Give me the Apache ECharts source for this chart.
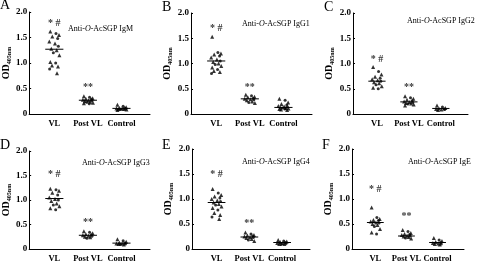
<!DOCTYPE html>
<html>
<head>
<meta charset="utf-8">
<script src="https://cdn.jsdelivr.net/npm/echarts@6/dist/echarts.min.js"></script>
<style>
  html, body { margin: 0; padding: 0; background: #fff; }
  #chart { width: 480px; height: 263px; }
</style>
</head>
<body>
<div id="chart"></div>
<script>
  // groups and where they sit on the x value axis
  const categories = ['VL', 'Post VL', 'Control'];
  const catPos = [0.75, 1.75, 2.75];
  const yTicks = [0, 0.5, 1.0, 1.5, 2.0];
  const panelLetters = ['A', 'B', 'C', 'D', 'E', 'F'];
  const isotypes = ['IgM', 'IgG1', 'IgG2', 'IgG3', 'IgG4', 'IgE'];

  // OD values, one list per group
  const vlIgM = [1.62, 1.58, 1.55, 1.52, 1.48, 1.42, 1.38, 1.33, 1.28, 1.25, 1.2, 1.15, 1.02, 1.0, 0.95, 0.93, 0.88, 0.8];
  const postIgM = [0.35, 0.33, 0.31, 0.3, 0.29, 0.28, 0.27, 0.26, 0.25, 0.24, 0.23, 0.22, 0.21, 0.2];
  const ctrlIgM = [0.18, 0.15, 0.13, 0.12, 0.12, 0.11, 0.11, 0.1, 0.1, 0.1, 0.09, 0.09, 0.08];

  const vlIgG1 = [1.53, 1.22, 1.2, 1.18, 1.15, 1.12, 1.08, 1.05, 1.03, 1.0, 0.98, 0.95, 0.92, 0.88, 0.85, 0.83, 0.8];
  const postIgG1 = [0.38, 0.36, 0.34, 0.33, 0.31, 0.3, 0.29, 0.28, 0.27, 0.25, 0.23, 0.22];
  const ctrlIgG1 = [0.3, 0.27, 0.23, 0.2, 0.18, 0.16, 0.15, 0.14, 0.13, 0.12, 0.12, 0.11, 0.1, 0.1, 0.09, 0.08];

  const vlIgG2 = [0.93, 0.84, 0.78, 0.74, 0.71, 0.69, 0.67, 0.65, 0.63, 0.61, 0.58, 0.55, 0.52, 0.5];
  const postIgG2 = [0.35, 0.32, 0.3, 0.28, 0.26, 0.25, 0.24, 0.23, 0.22, 0.21, 0.2, 0.19, 0.17];
  const ctrlIgG2 = [0.17, 0.14, 0.12, 0.11, 0.1, 0.1, 0.09, 0.09, 0.08];

  const vlIgG3 = [1.23, 1.21, 1.19, 1.15, 1.1, 1.05, 1.02, 1.0, 0.98, 0.93, 0.9, 0.87, 0.83, 0.8];
  const postIgG3 = [0.36, 0.34, 0.32, 0.3, 0.29, 0.28, 0.27, 0.26, 0.25, 0.24, 0.22];
  const ctrlIgG3 = [0.2, 0.17, 0.15, 0.13, 0.12, 0.11, 0.11, 0.1, 0.1, 0.09, 0.09];

  const vlIgG4 = [1.2, 1.12, 1.08, 1.05, 1.02, 1.0, 0.97, 0.95, 0.93, 0.9, 0.88, 0.85, 0.82, 0.78, 0.72, 0.68, 0.64, 0.6];
  const postIgG4 = [0.33, 0.3, 0.28, 0.27, 0.26, 0.25, 0.24, 0.23, 0.22, 0.2, 0.18, 0.16];
  const ctrlIgG4 = [0.18, 0.16, 0.15, 0.14, 0.13, 0.12, 0.12, 0.11, 0.1, 0.1, 0.09];

  const vlIgE = [0.83, 0.63, 0.6, 0.58, 0.57, 0.55, 0.53, 0.52, 0.5, 0.48, 0.45, 0.4, 0.33, 0.3];
  const postIgE = [0.38, 0.35, 0.32, 0.3, 0.29, 0.28, 0.27, 0.26, 0.25, 0.24, 0.22, 0.21];
  const ctrlIgE = [0.22, 0.18, 0.16, 0.14, 0.13, 0.12, 0.11, 0.1, 0.1, 0.09];

  // median bars
  const medIgM = [1.27, 0.27, 0.11];
  const medIgG1 = [1.05, 0.3, 0.13];
  const medIgG2 = [0.65, 0.24, 0.11];
  const medIgG3 = [1.03, 0.28, 0.12];
  const medIgG4 = [0.93, 0.24, 0.13];
  const medIgE = [0.53, 0.26, 0.13];

  // where the "* #" and "**" marks sit
  const vlMarkY = [1.77, 1.69, 1.09, 1.52, 1.5, 1.19];
  const postMarkY = [0.53, 0.52, 0.53, 0.55, 0.52, 0.65];

  const groups = [
    [vlIgM, postIgM, ctrlIgM],
    [vlIgG1, postIgG1, ctrlIgG1],
    [vlIgG2, postIgG2, ctrlIgG2],
    [vlIgG3, postIgG3, ctrlIgG3],
    [vlIgG4, postIgG4, ctrlIgG4],
    [vlIgE, postIgE, ctrlIgE]
  ];
  const medians = [medIgM, medIgG1, medIgG2, medIgG3, medIgG4, medIgE];

  // horizontal scatter of the dots inside a group (hand picked, not data)
  const jitter = [-0.12, 0.05, 0.14, -0.06, 0.1, -0.15, 0.02, 0.12, -0.09, 0.07, -0.03, 0.15, -0.12, 0.04, -0.07, 0.11, -0.14, 0.08];

  // plot boxes, panel letter spot and caption spot for each panel
  const boxes = [
    {left: 23, top: 12, width: 127, height: 102},
    {left: 191, top: 13, width: 121, height: 101},
    {left: 353, top: 13, width: 115, height: 101},
    {left: 23, top: 151, width: 127, height: 100},
    {left: 192, top: 149, width: 118, height: 103},
    {left: 352, top: 149, width: 112, height: 104}
  ];
  const letterAt = [[0, -2], [162, 0], [324, 0], [0, 138], [162, 138], [322, 138]];
  const captionAt = [[68, 25], [242, 20], [407, 17], [82, 159], [242, 158], [408, 158]];

  const serif = 'Liberation Serif';
  const grid = [], xAxis = [], yAxis = [], series = [], title = [];

  boxes.forEach(function (b, p) {
    grid.push(b);
    xAxis.push({
      type: 'value', gridIndex: p, min: 0, max: 3.6, interval: 0.25,
      axisLine: {lineStyle: {color: '#000', width: 1}},
      axisTick: {show: false},
      splitLine: {show: false},
      showMaxLabel: false,
      axisLabel: {
        color: '#000', fontFamily: serif, fontWeight: 'bold', fontSize: 8.5, margin: 5,
        formatter: function (v) {
          const i = catPos.findIndex(function (c) { return Math.abs(c - v) < 1e-6; });
          return i >= 0 ? categories[i] : '';
        }
      }
    });
    yAxis.push({
      type: 'value', gridIndex: p, min: 0, max: 2, interval: 0.5,
      axisLine: {show: true, lineStyle: {color: '#000', width: 1}},
      axisTick: {show: true, inside: true, length: 2, lineStyle: {color: '#000'}},
      splitLine: {show: false},
      axisLabel: {
        color: '#000', fontFamily: serif, fontWeight: 'bold', fontSize: 9, margin: 2,
        formatter: function (v) { return v === 0 ? '0' : v.toFixed(1); }
      },
      name: '{a|OD}{b|405nm}',
      nameLocation: 'middle', nameRotate: 90, nameGap: 16,
      nameTextStyle: {
        rich: {
          a: {fontFamily: serif, fontWeight: 'bold', fontSize: 10, color: '#000', lineHeight: 12},
          b: {fontFamily: serif, fontWeight: 'bold', fontSize: 6, color: '#000', lineHeight: 12, verticalAlign: 'bottom'}
        }
      }
    });

    groups[p].forEach(function (vals, g) {
      series.push({
        type: 'scatter', xAxisIndex: p, yAxisIndex: p,
        symbolSize: 4, itemStyle: {color: '#000'},
        data: vals.map(function (v, k) {
          return {value: [catPos[g] + jitter[k % jitter.length], v], symbol: k % 3 === 1 ? 'circle' : 'triangle', symbolSize: k % 3 === 1 ? 3 : 4};
        })
      });
      series.push({
        type: 'line', xAxisIndex: p, yAxisIndex: p, symbol: 'none',
        lineStyle: {color: '#000', width: 1},
        data: [[catPos[g] - 0.27, medians[p][g]], [catPos[g] + 0.27, medians[p][g]]]
      });
    });

    // significance marks
    series.push({
      type: 'scatter', xAxisIndex: p, yAxisIndex: p, symbolSize: 0,
      label: {
        show: true, position: 'inside', color: '#000', fontFamily: serif, fontWeight: 'bold', fontSize: 10,
        formatter: function (d) { return d.data[2]; }
      },
      data: [[catPos[0], vlMarkY[p], '* #'], [catPos[1], postMarkY[p], '**']]
    });

    title.push({
      text: panelLetters[p], left: letterAt[p][0], top: letterAt[p][1], padding: 0,
      textStyle: {fontFamily: serif, fontWeight: 'normal', fontSize: 14, color: '#000'}
    });
    title.push({
      text: '{n|Anti-}{i|O}{n|-AcSGP ' + isotypes[p] + '}',
      left: captionAt[p][0], top: captionAt[p][1], padding: 0,
      textStyle: {
        rich: {
          n: {fontFamily: serif, fontWeight: 'normal', fontSize: 8, color: '#000'},
          i: {fontFamily: serif, fontWeight: 'normal', fontSize: 8, fontStyle: 'italic', color: '#000'}
        }
      }
    });
  });

  const chart = echarts.init(document.getElementById('chart'));
  chart.setOption({
    animation: false,
    title: title,
    grid: grid,
    xAxis: xAxis,
    yAxis: yAxis,
    series: series
  });
</script>
</body>
</html>
